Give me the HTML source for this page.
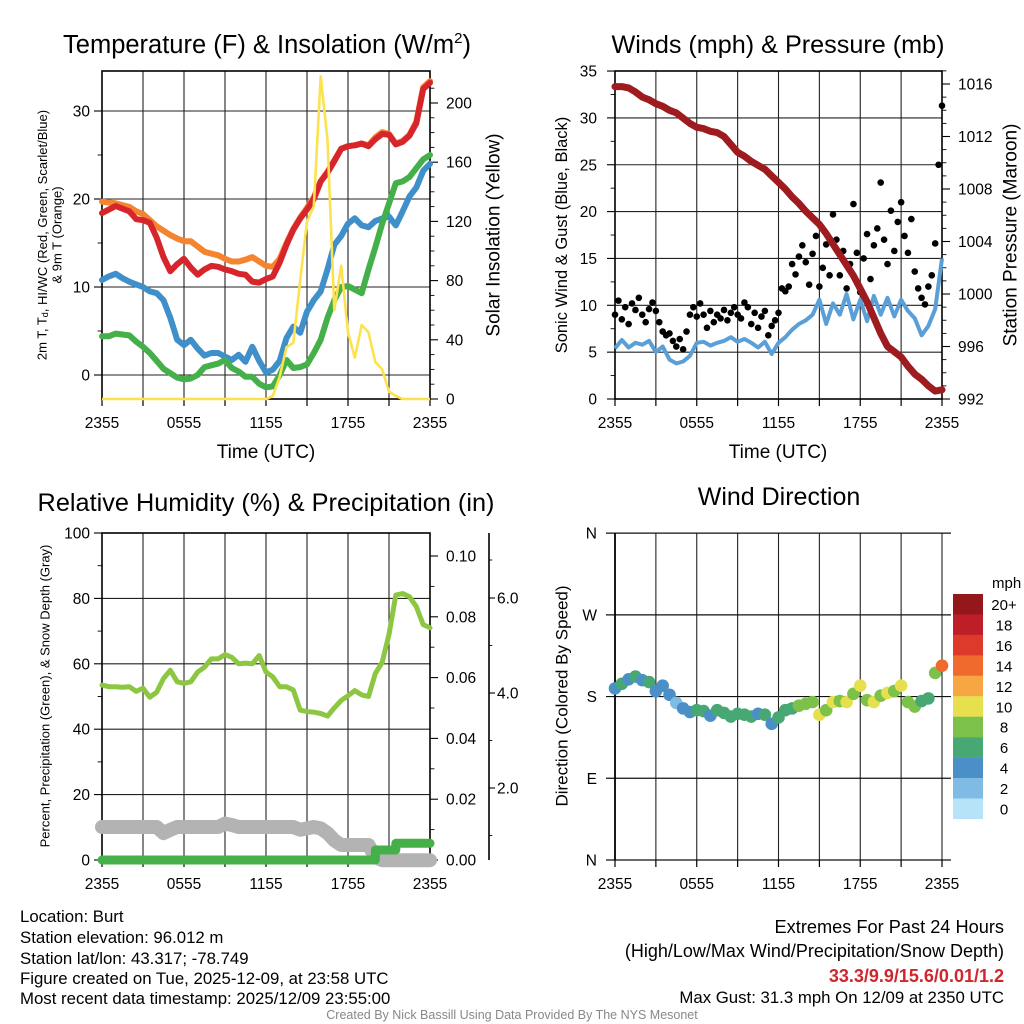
<!DOCTYPE html>
<html><head><meta charset="utf-8"><title>Burt Mesonet Station Meteogram</title>
<style>
html,body{margin:0;padding:0;background:#fff;}
svg{display:block;font-family:"Liberation Sans",Arial,sans-serif;}
</style></head>
<body>
<svg id="fig" width="1024" height="1024" viewBox="0 0 1024 1024" xmlns="http://www.w3.org/2000/svg">
<rect x="0" y="0" width="1024" height="1024" fill="#fff"/>
<!-- titles -->
<text x="267" y="53" font-size="25.5" text-anchor="middle">Temperature (F) &amp; Insolation (W/m<tspan font-size="15" dy="-10">2</tspan><tspan dy="10">)</tspan></text>
<text x="778" y="53" font-size="25.2" text-anchor="middle">Winds (mph) &amp; Pressure (mb)</text>
<text x="266" y="511" font-size="25.3" text-anchor="middle">Relative Humidity (%) &amp; Precipitation (in)</text>
<text x="779" y="505" font-size="25" text-anchor="middle">Wind Direction</text>
<!-- axis titles -->
<text x="266" y="458" font-size="19" text-anchor="middle">Time (UTC)</text>
<text x="778" y="458" font-size="19" text-anchor="middle">Time (UTC)</text>
<text transform="translate(42,235) rotate(-90)" font-size="13" text-anchor="middle" dominant-baseline="central">2m T, T<tspan font-size="9" dy="3">d</tspan><tspan dy="-3">, HI/WC (Red, Green, Scarlet/Blue)</tspan></text>
<text transform="translate(57,235) rotate(-90)" font-size="13" text-anchor="middle" dominant-baseline="central">&amp; 9m T (Orange)</text>
<text transform="translate(494,235) rotate(-90)" font-size="19" text-anchor="middle" dominant-baseline="central">Solar Insolation (Yellow)</text>
<text transform="translate(562,235) rotate(-90)" font-size="16.5" text-anchor="middle" dominant-baseline="central">Sonic Wind &amp; Gust (Blue, Black)</text>
<text transform="translate(1011,235) rotate(-90)" font-size="19" text-anchor="middle" dominant-baseline="central">Station Pressure (Maroon)</text>
<text transform="translate(45,696) rotate(-90)" font-size="13" text-anchor="middle" dominant-baseline="central">Percent, Precipitation (Green), &amp; Snow Depth (Gray)</text>
<text transform="translate(562,696) rotate(-90)" font-size="17" text-anchor="middle" dominant-baseline="central">Direction (Colored By Speed)</text>
<!-- info text -->
<g font-size="16.8">
<text x="20" y="922">Location: Burt</text>
<text x="20" y="943">Station elevation: 96.012 m</text>
<text x="20" y="964">Station lat/lon: 43.317; -78.749</text>
<text x="20" y="984">Figure created on Tue, 2025-12-09, at 23:58 UTC</text>
<text x="20" y="1004">Most recent data timestamp: 2025/12/09 23:55:00</text>
</g>
<g text-anchor="end">
<text x="1004" y="933" font-size="18.2">Extremes For Past 24 Hours</text>
<text x="1004" y="957" font-size="18">(High/Low/Max Wind/Precipitation/Snow Depth)</text>
<text x="1004" y="982" font-size="18" font-weight="bold" fill="#d0262d">33.3/9.9/15.6/0.01/1.2</text>
<text x="1004" y="1003" font-size="16.8">Max Gust: 31.3 mph On 12/09 at 2350 UTC</text>
</g>
<text x="512" y="1019" font-size="12.5" fill="#888" text-anchor="middle">Created By Nick Bassill Using Data Provided By The NYS Mesonet</text>
</svg>
<script>
// ---------- data (half-hourly, 2355 -> 2355) ----------
const xTickLabels = ["2355","0555","1155","1755","2355"];
const tempF = [18.4,18.8,19.2,18.9,18.6,17.7,17.6,17.3,15.6,13.4,11.8,12.6,13.2,12.2,11.4,12.0,12.4,12.3,12.0,11.8,11.5,11.4,10.6,10.5,10.9,11.2,12.8,14.8,16.5,17.8,18.8,20.0,22.0,23.0,24.3,25.7,26.0,26.1,26.3,26.0,26.8,27.4,27.3,26.2,26.5,27.2,28.6,32.5,33.2];
const temp9mF = [19.7,19.6,19.5,19.3,19.1,18.6,18.3,17.6,16.9,16.4,15.9,15.5,15.2,15.2,14.6,14.0,13.8,13.6,13.2,12.9,12.9,13.1,13.4,12.9,12.4,12.3,13.2,15.0,16.6,17.9,19.0,20.2,22.0,23.1,24.4,25.7,26.0,26.1,26.3,26.1,27.0,27.6,27.4,26.3,26.6,27.3,28.8,32.7,33.4];
const dewF = [10.8,11.2,11.5,11.0,10.6,10.3,10.0,9.5,9.3,8.5,6.5,4.0,3.4,4.0,3.0,2.2,2.5,2.5,2.1,1.7,2.3,1.5,3.2,1.6,0.3,0.6,1.6,4.2,5.5,4.8,7.2,8.5,9.5,12.0,14.8,15.8,17.2,17.8,17.0,16.8,17.5,17.8,18.0,17.0,18.6,20.3,21.3,23.2,24.0];
const hiwcF = [4.4,4.4,4.7,4.6,4.5,3.8,3.2,2.5,1.6,0.7,0.2,-0.3,-0.5,-0.4,0.0,0.9,1.1,1.3,1.7,0.8,0.4,-0.2,-0.2,-1.0,-1.4,-1.3,0.0,1.7,0.8,0.9,1.2,2.5,4.0,6.5,8.5,10.0,10.1,9.7,9.3,12.0,14.5,17.2,19.5,21.8,22.0,22.5,23.5,24.5,25.0];
const solar = [0,0,0,0,0,0,0,0,0,0,0,0,0,0,0,0,0,0,0,0,0,0,0,0,0,2,15,35,38,80,120,130,218,175,60,90,45,28,50,45,25,20,5,2,0,0,0,0,0];
const windSpd = [5.4,6.3,5.5,6.0,5.8,6.2,5.0,5.6,4.2,3.8,4.0,4.6,6.0,6.1,5.7,6.0,6.2,6.6,6.1,6.4,6.0,5.5,6.1,4.8,6.0,6.6,7.4,8.0,8.4,9.0,10.6,8.0,10.2,9.0,11.2,8.5,10.6,8.3,11.0,9.0,10.8,8.8,10.6,9.4,8.6,6.8,7.8,9.6,15.0];
const pressure = [1015.8,1015.8,1015.7,1015.4,1015.0,1014.8,1014.5,1014.3,1014.0,1013.8,1013.4,1013.0,1012.7,1012.6,1012.4,1012.3,1012.0,1011.4,1010.8,1010.5,1010.1,1009.8,1009.5,1009.0,1008.5,1008.0,1007.4,1006.9,1006.3,1005.8,1005.3,1004.6,1003.8,1003.0,1002.2,1001.4,1000.4,999.4,998.2,997.0,996.0,995.6,995.2,994.5,993.9,993.5,993.0,992.6,992.7];
// gusts every 15 min
const gusts = [9,10.5,8.5,9.8,8,10.2,9.5,10.8,9,8.2,9.6,10.3,
9.4,8.2,7.2,6.8,7.0,6.2,5.6,6.4,5.3,7.2,9.0,9.8,
8.8,10.2,9.0,7.6,9.4,8.2,9.0,8.6,9.5,8.4,9.2,9.8,
9.0,8.6,10.3,9.8,8.0,9.2,7.6,8.8,9.4,6.8,7.8,8.4,
9.2,11.8,11.5,12.0,14.4,13.3,15.2,16.4,14.6,12.2,15.5,17.4,
12.0,14.0,16.5,13.2,19.7,17.0,13.2,15.8,11.8,14.4,20.8,15.6,
11.4,15.0,17.6,12.8,16.4,18.2,23.1,17.0,14.4,20.1,15.8,18.9,
21.0,17.4,15.6,19.2,13.6,11.8,10.8,10.1,12.0,13.2,16.6,25.0,31.3];
const rh = [53.5,53.0,53.0,52.8,53.0,51.6,52.5,49.8,51.3,55.5,58.0,54.5,54.0,54.5,57.5,59.0,61.5,61.5,62.8,62.0,60.0,60.2,60.0,62.5,57.5,56.0,53.0,53.0,52.0,45.8,45.4,45.2,44.8,44.0,46.5,48.8,50.2,51.8,50.5,50.0,57.0,60.5,69.0,81.0,81.5,80.5,77.5,72.0,71.0];
const precip = [0,0,0,0,0,0,0,0,0,0,0,0,0,0,0,0,0,0,0,0,0,0,0,0,0,0,0,0,0,0,0,0,0,0,0,0,0,0,0,0,0.0033,0.0033,0.0033,0.0055,0.0055,0.0055,0.0055,0.0055,0.0055];
const snowDepth = [1.18,1.18,1.18,1.18,1.18,1.18,1.18,1.18,1.18,1.05,1.12,1.18,1.18,1.18,1.18,1.18,1.18,1.18,1.25,1.22,1.18,1.18,1.18,1.18,1.18,1.18,1.18,1.18,1.18,1.12,1.15,1.18,1.15,1.05,0.9,0.8,0.8,0.8,0.8,0.8,0.55,0.48,0.48,0.48,0.48,0.48,0.48,0.48,0.48];
const windDir = [189,194,199,202,198,196,186,192,182,173,167,163,165,164,159,165,162,158,161,160,158,161,160,150,157,165,167,170,172,174,160,165,174,175,174,183,192,176,174,181,184,186,192,174,169,175,178,206,214];
const speedBins = [0,2,4,6,8,10,12,14,16,18,20];
const speedBinLabels = ["0","2","4","6","8","10","12","14","16","18","20+"];
const speedColors = ["#b6e3f8","#7fbbe4","#4a8fc8","#48a874","#7cc14a","#e6e04e","#f6a743","#ef6a2c","#dd3a2b","#be1e27","#93171b"];

// ---------- helpers ----------
const NS = "http://www.w3.org/2000/svg";
const svg = document.getElementById("fig");
function mk(tag, attrs, parent){
  const e = document.createElementNS(NS, tag);
  for (const k in attrs) e.setAttribute(k, attrs[k]);
  (parent || svg).appendChild(e);
  return e;
}
function grp(name){
  const g = mk("g", {});
  
  
  return g;
}
const hHalf = tempF.map((_, i) => i * 0.5);
const hQuarter = gusts.map((_, i) => i * 0.25);
function pathD(xs, ys){ return xs.map((x,i)=>(i?"L":"M")+x.toFixed(1)+","+ys[i].toFixed(1)).join(""); }
function stepD(xs, ys){ let d="M"+xs[0]+","+ys[0]; for(let i=1;i<xs.length;i++){ d+="L"+xs[i]+","+ys[i-1]+"L"+xs[i]+","+ys[i]; } return d; }

// ---------- scales ----------
const P1 = {x0:102, x1:430, y0:71, y1:399};
const P2 = {x0:615, x1:942, y0:71, y1:399};
const P3 = {x0:102, x1:430, y0:533, y1:860};
const P4 = {x0:615, x1:942, y0:533, y1:860};
const xA = h => P1.x0 + h * (P1.x1 - P1.x0) / 24;
const xB = h => P2.x0 + h * (P2.x1 - P2.x0) / 24;
const yT = v => 375 - v * 8.8;
const yS = v => 399 - v * 1.48;
const yW = v => 399 - v * 9.37;
const yP = p => 399 - (p - 992) * 13.125;
const yRH = v => 860 - v * 3.27;
const yPr = v => 860 - v * 3040;
const ySn = v => 883 - v * 47.5;
const yD = d => 860 - d * 0.908;

function frame(P, name, gx, hLines){
  const g = grp(name);
  for (let i=1;i<8;i++){
    const x = P.x0 + i*(P.x1-P.x0)/8;
    const l = mk("line",{x1:x,y1:P.y0,x2:x,y2:P.y1,stroke:"#222","stroke-width":1.1},g);
    
    
  }
  hLines.forEach(y=>{
    const l = mk("line",{x1:gx[0],y1:y,x2:gx[1],y2:y,stroke:"#222","stroke-width":1.1},g);
    
    
  });
  for (let i=0;i<=8;i++){
    const x = P.x0 + i*(P.x1-P.x0)/8;
    const t = mk("line",{x1:x,y1:P.y1,x2:x,y2:P.y1+7,stroke:"#000","stroke-width":1.2},g);
    
    
  }
  xTickLabels.forEach((s,i)=>{
    const x = P.x0 + i*(P.x1-P.x0)/4;
    const t = mk("text",{x:x,y:P.y1+29,"font-size":15.5,"text-anchor":"middle"},g);
    t.textContent = s;
    
    
  });
  const b = mk("rect",{x:P.x0,y:P.y0,width:P.x1-P.x0,height:P.y1-P.y0,fill:"none",stroke:"#000","stroke-width":1.6},g);
  
  
  return g;
}
function yAxis(g, xAxis, side, vals, fy, fmt, len, lx, minorVals){
  vals.forEach(v=>{
    const y = fy(v);
    const t = mk("line",{x1:xAxis,y1:y,x2:xAxis+side*len,y2:y,stroke:"#000","stroke-width":1.1},g);
    
    
    const tx = mk("text",{x:lx,y:y+5.5,"font-size":15.5,"text-anchor":side<0?"end":"start"},g);
    tx.textContent = fmt(v);
    
    
  });
  (minorVals||[]).forEach(v=>{
    const y = fy(v);
    const t = mk("line",{x1:xAxis,y1:y,x2:xAxis+side*len*0.55,y2:y,stroke:"#000","stroke-width":0.9},g);
    
    
  });
}
function rng(a,b,s){ const r=[]; for(let v=a; v<=b+1e-9; v+=s) r.push(+v.toFixed(4)); return r; }

// ---------- Panel 1: temperature ----------
{
  const g = frame(P1, "temperature-panel", [P1.x0,P1.x1], [0,10,20,30].map(yT));
  yAxis(g, P1.x0, -1, [0,10,20,30], yT, v=>String(v), 8, 90, [5,15,25]);
  yAxis(g, P1.x1, 1, [0,40,80,120,160,200], yS, v=>String(v), 8, 446, rng(10,210,10).filter(v=>v%40));
  const xs = hHalf.map(xA);
  const series = [
    [temp9mF,"#f58430",6,"temperature-9m-line"],
    [tempF,"#d7262b",6,"temperature-2m-line"],
    [dewF,"#3f8fcb",6,"dewpoint-line"],
    [hiwcF,"#45b04a",6,"heat-index-windchill-line"]
  ];
  series.forEach(s=>{
    const p = mk("path",{d:pathD(xs, s[0].map(yT)),fill:"none",stroke:s[1],"stroke-width":s[2],"stroke-linejoin":"round","stroke-linecap":"round"},g);
    
    
  });
  const ys = mk("path",{d:pathD(xs, solar.map(yS)),fill:"none",stroke:"#fde24f","stroke-width":2.6,"stroke-linejoin":"round"},g);
  
  
}

// ---------- Panel 2: winds & pressure ----------
{
  const g = frame(P2, "winds-panel", [P2.x0,P2.x1], [5,10,15,20,25,30].map(yW));
  yAxis(g, P2.x0, -1, [0,5,10,15,20,25,30,35], yW, v=>String(v), 8, 597, rng(2.5,32.5,5));
  yAxis(g, P2.x1, 1, [992,996,1000,1004,1008,1012,1016], yP, v=>String(v), 8, 958, rng(993,1017,1).filter(v=>v%4));
  const xs = hHalf.map(xB);
  const w = mk("path",{d:pathD(xs, windSpd.map(yW)),fill:"none",stroke:"#5a9fd8","stroke-width":4,"stroke-linejoin":"round"},g);
  
  
  const gg = grp("gust-points");
  g.appendChild(gg);
  gusts.forEach((v,i)=>{
    const c = mk("circle",{cx:xB(hQuarter[i]),cy:yW(v),r:3.3,fill:"#000"},gg);
    
    
  });
  const p = mk("path",{d:pathD(xs, pressure.map(yP)),fill:"none",stroke:"#9e1b20","stroke-width":7,"stroke-linejoin":"round","stroke-linecap":"round"},g);
  
  
}

// ---------- Panel 3: RH & precip ----------
{
  const g = frame(P3, "humidity-panel", [P3.x0,P3.x1], [20,40,60,80].map(yRH));
  yAxis(g, P3.x0, -1, [0,20,40,60,80,100], yRH, v=>String(v), 8, 90, [10,30,50,70,90]);
  yAxis(g, P3.x1, 1, [0,0.02,0.04,0.06,0.08,0.10], yPr, v=>v.toFixed(2), 8, 446, [0.01,0.03,0.05,0.07,0.09]);
  const ax = mk("line",{x1:489,y1:P3.y0,x2:489,y2:P3.y1,stroke:"#000","stroke-width":1.6},g);
  
  
  yAxis(g, 489, 1, [2,4,6], ySn, v=>v.toFixed(1), 6, 497, [1,3,5,6.8].filter(v=>ySn(v)>=P3.y0));
  const xs = hHalf.map(xA);
  const s = mk("path",{d:pathD(xs, snowDepth.map(ySn)),fill:"none",stroke:"#b3b3b3","stroke-width":14,"stroke-linejoin":"round","stroke-linecap":"round"},g);
  
  
  const pr = mk("path",{d:stepD(xs, precip.map(yPr)),fill:"none",stroke:"#45b04a","stroke-width":9,"stroke-linejoin":"round","stroke-linecap":"round"},g);
  
  
  const r = mk("path",{d:pathD(xs, rh.map(yRH)),fill:"none",stroke:"#8dc641","stroke-width":5,"stroke-linejoin":"round","stroke-linecap":"round"},g);
  
  
}

// ---------- Panel 4: wind direction ----------
{
  const g = grp("wind-direction-panel");
  for (let i=1;i<=8;i++){
    const x = P4.x0 + i*(P4.x1-P4.x0)/8;
    const l = mk("line",{x1:x,y1:P4.y0,x2:x,y2:P4.y1,stroke:"#222","stroke-width":1.1},g);
    
    
  }
  const dirLabels = ["N","E","S","W","N"];
  [0,90,180,270,360].forEach((d,i)=>{
    const l = mk("line",{x1:606,y1:yD(d),x2:951,y2:yD(d),stroke:"#111","stroke-width":1.2},g);
    
    
    const t = mk("text",{x:597,y:yD(d)+5.5,"font-size":15.5,"text-anchor":"end"},g);
    t.textContent = dirLabels[i];
    
    
  });
  const la = mk("line",{x1:P4.x0,y1:P4.y0,x2:P4.x0,y2:P4.y1,stroke:"#000","stroke-width":1.8},g);
  
  
  for (let i=0;i<=8;i++){
    const x = P4.x0 + i*(P4.x1-P4.x0)/8;
    const t = mk("line",{x1:x,y1:P4.y1,x2:x,y2:P4.y1+7,stroke:"#000","stroke-width":1.2},g);
    
    
  }
  xTickLabels.forEach((s,i)=>{
    const t = mk("text",{x:P4.x0 + i*(P4.x1-P4.x0)/4,y:P4.y1+29,"font-size":15.5,"text-anchor":"middle"},g);
    t.textContent = s;
    
    
  });
  function colorFor(v){ let c = 0; speedBins.forEach((b,i)=>{ if (v >= b) c = i; }); return speedColors[c]; }
  windDir.forEach((d,i)=>{
    const c = mk("circle",{cx:xB(hHalf[i]),cy:yD(d),r:6.3,fill:colorFor(windSpd[i])},g);
    
    
  });
  const cb = grp("speed-colorbar");
  const mt = mk("text",{x:992,y:588,"font-size":15},cb);
  mt.textContent = "mph";
  
  
  const n = speedColors.length;
  for (let i=0;i<n;i++){
    const idx = n-1-i;
    const y = 594 + i*20.45;
    const r = mk("rect",{x:953,y:y,width:30,height:20.6,fill:speedColors[idx]},cb);
    
    
    const t = mk("text",{x:1004,y:y+16,"font-size":15,"text-anchor":"middle"},cb);
    t.textContent = speedBinLabels[idx];
    
    
  }
}
</script>
</body></html>
